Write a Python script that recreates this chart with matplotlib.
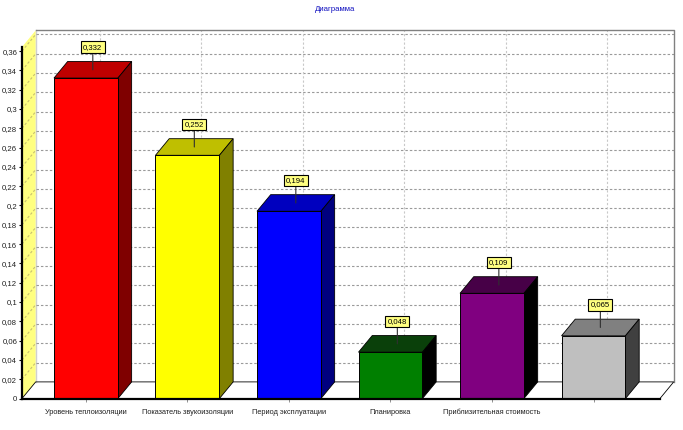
import matplotlib
matplotlib.use('Agg')
import matplotlib.pyplot as plt
from matplotlib.patches import Polygon
import numpy as np

plt.rcParams['font.family'] = ['Liberation Sans', 'DejaVu Sans']

categories = ['Уровень теплоизоляции', 'Показатель звукоизоляции', 'Период эксплуатации',
              'Планировка', 'Приблизительная стоимость', '']
values = [0.332, 0.252, 0.194, 0.048, 0.109, 0.065]
value_labels = ['0,332', '0,252', '0,194', '0,048', '0,109', '0,065']
front_colors = ['#ff0000', '#ffff00', '#0000ff', '#007f00', '#800080', '#bfbfbf']
top_colors = ['#bf0000', '#bfbf00', '#0000bf', '#0a400a', '#470047', '#808080']
side_colors = ['#7f0000', '#808000', '#00007f', '#000000', '#000000', '#404040']
y_ticks = [0, 0.02, 0.04, 0.06, 0.08, 0.1, 0.12, 0.14, 0.16, 0.18, 0.2,
           0.22, 0.24, 0.26, 0.28, 0.3, 0.32, 0.34, 0.36]
y_tick_labels = ['0', '0,02', '0,04', '0,06', '0,08', '0,1', '0,12', '0,14', '0,16', '0,18', '0,2',
                 '0,22', '0,24', '0,26', '0,28', '0,3', '0,32', '0,34', '0,36']

W, H = 683, 430
x_lo, x_hi = -0.63, 5.655
y_hi = 0.3642
bar_w = 0.63
# 3d depth, in data units
dx = 0.135
dy = 0.0172

fig = plt.figure(figsize=(W / 100, H / 100), dpi=100, facecolor='white')
ax = fig.add_axes([22 / W, 31.5 / H, 638 / W, 351.5 / H])
ax.set_xlim(x_lo, x_hi)
ax.set_ylim(0, y_hi)
ax.patch.set_visible(False)

xs = np.arange(len(values))
wall_top = y_hi + dy

# left wall and floor
ax.add_patch(Polygon([(x_lo, 0), (x_lo + dx, dy), (x_lo + dx, wall_top), (x_lo, y_hi)],
                     fc='#ffff80', ec='none', clip_on=False, zorder=1))
ax.plot([x_lo + dx, x_lo + dx], [dy, wall_top], color='#d0d0d0', lw=1, clip_on=False, zorder=1.5)

# back wall grid
for t in y_ticks[1:]:
    ax.plot([x_lo + dx, x_hi + dx], [t + dy, t + dy], color='#9a9a9a', lw=0.8,
            ls=(0, (2.2, 1.8)), clip_on=False, zorder=2)
    ax.plot([x_lo, x_lo + dx], [t, t + dy], color='#c8c070', lw=0.8,
            ls=(0, (2.2, 1.8)), clip_on=False, zorder=2)
for x in xs:
    ax.plot([x + dx, x + dx], [dy, wall_top], color='#c8c8c8', lw=0.8,
            ls=(0, (2, 1.8)), clip_on=False, zorder=2)

# frame of the back wall and floor
ax.plot([x_lo + dx, x_hi + dx, x_hi + dx], [wall_top, wall_top, dy], color='#808080', lw=1.0,
        clip_on=False, zorder=2.5)
ax.plot([x_lo, x_lo + dx, x_hi + dx, x_hi], [0, dy, dy, 0], color='black', lw=0.6,
        clip_on=False, zorder=2.5)

# bars with top and side faces
ax.bar(xs, values, width=bar_w, color=front_colors, edgecolor='black', linewidth=0.7, zorder=4)
for x, v, tc, sc in zip(xs, values, top_colors, side_colors):
    l, r = x - bar_w / 2, x + bar_w / 2
    ax.add_patch(Polygon([(l, v), (l + dx, v + dy), (r + dx, v + dy), (r, v)],
                         fc=tc, ec='black', lw=0.6, zorder=3, clip_on=False))
    ax.add_patch(Polygon([(r, 0), (r + dx, dy), (r + dx, v + dy), (r, v)],
                         fc=sc, ec='black', lw=0.6, zorder=3, clip_on=False))

# value marks
for x, v, s in zip(xs, values, value_labels):
    ax.annotate(s, xy=(x + dx / 2, v + dy / 2), xytext=(0, 19), textcoords='offset pixels',
                ha='center', va='bottom', fontsize=5.6, color='black', zorder=6,
                annotation_clip=False,
                bbox=dict(boxstyle='square,pad=0.3', fc='#ffff80', ec='black', lw=0.8),
                arrowprops=dict(arrowstyle='-', color='#303030', lw=0.8, shrinkA=0, shrinkB=0))

ax.set_yticks(y_ticks)
ax.set_yticklabels(y_tick_labels, fontsize=5.6, color='#202020')
ax.set_xticks(xs)
ax.set_xticklabels(categories, fontsize=5.3, color='#202020', va='baseline')
ax.tick_params(axis='y', length=2, width=0.8, pad=1.5)
ax.tick_params(axis='x', length=2, width=0.6, color='#808080', pad=9)

for name in ['top', 'right']:
    ax.spines[name].set_visible(False)
for name in ['left', 'bottom']:
    ax.spines[name].set_linewidth(1.6)
    ax.spines[name].set_zorder(5)

fig.text(335 / W, 1 - 9.5 / H, 'Диаграмма', color='#1010c0', fontsize=5.6, ha='center', va='center')

fig.savefig('out.png', dpi=100)
